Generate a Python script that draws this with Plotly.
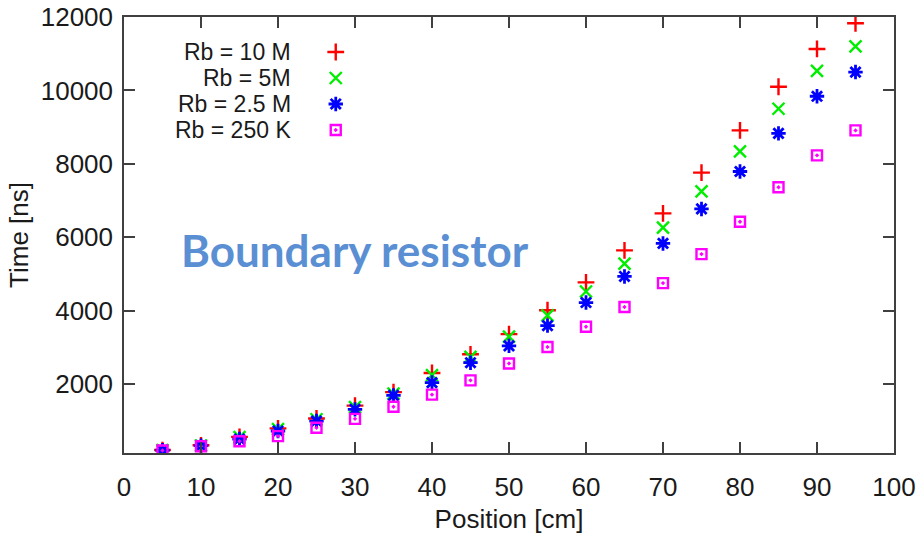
import plotly.graph_objects as go

# Position along the strip [cm]
position_cm = [5, 10, 15, 20, 25, 30, 35, 40, 45, 50, 55, 60, 65, 70, 75, 80, 85, 90, 95]

# Signal arrival time [ns] for each boundary resistor value
time_rb_10m = [200, 330, 560, 790, 1060, 1410, 1780, 2300, 2810, 3360, 4010, 4770,
               5640, 6650, 7760, 8910, 10100, 11130, 11830]
time_rb_5m = [200, 325, 550, 770, 1040, 1370, 1740, 2240, 2740, 3290, 3870, 4520,
              5280, 6260, 7250, 8340, 9500, 10530, 11200]
time_rb_2p5m = [195, 320, 500, 720, 990, 1310, 1690, 2040, 2580, 3040, 3590, 4220,
                4930, 5830, 6770, 7790, 8830, 9840, 10500]
time_rb_250k = [190, 305, 440, 580, 810, 1050, 1380, 1710, 2100, 2560, 3010, 3560,
                4100, 4750, 5540, 6420, 7360, 8230, 8910]

series_labels = ["Rb = 10 M", "Rb = 5M", "Rb = 2.5 M", "Rb = 250 K"]
series_values = [time_rb_10m, time_rb_5m, time_rb_2p5m, time_rb_250k]

x_ticks = [0, 10, 20, 30, 40, 50, 60, 70, 80, 90, 100]
y_ticks = [2000, 4000, 6000, 8000, 10000, 12000]
y_tick_text = ["2000", "4000", "6000", "8000", "10000", "12000"]

# gnuplot-like point styles: +, x, *, square with dot
styles = [
    dict(symbol="cross-thin-open", color="#ff0000", size=12, width=2.4),
    dict(symbol="x-thin-open", color="#00ee00", size=12, width=2.4),
    dict(symbol="asterisk-open", color="#0000ff", size=12, width=2.8),
    dict(symbol="square-open-dot", color="#ff00ff", size=10, width=2.4),
]

AXIS_COLOR = "#404040"
TEXT_COLOR = "#1a1a1a"
FONT = "Liberation Sans, Arial, sans-serif"
FONT_SIZE = 26
KEY_FONT_SIZE = 23

fig = go.Figure()

for label, values, st in zip(series_labels, series_values, styles):
    fig.add_trace(go.Scatter(
        x=position_cm, y=values, mode="markers", name=label,
        marker=dict(symbol=st["symbol"], size=st["size"], color=st["color"],
                    line=dict(color=st["color"], width=st["width"])),
        showlegend=False,
    ))

# Key: right-aligned labels with the point sample to their right
key_text_x = 0.2195
key_mark_x = 0.275
key_rows_y = [0.9197, 0.8601, 0.8005, 0.7408]
for label, ky, st in zip(series_labels, key_rows_y, styles):
    fig.add_trace(go.Scatter(
        x=[key_mark_x], y=[ky], mode="markers", xaxis="x2", yaxis="y2",
        marker=dict(symbol=st["symbol"], size=st["size"], color=st["color"],
                    line=dict(color=st["color"], width=st["width"])),
        showlegend=False, hoverinfo="skip",
    ))
    fig.add_annotation(
        x=key_text_x, y=ky, xref="paper", yref="paper", text=label,
        showarrow=False, xanchor="right", yanchor="middle",
        font=dict(family=FONT, size=KEY_FONT_SIZE, color=TEXT_COLOR),
    )

fig.add_annotation(
    x=0.071, y=0.466, xref="paper", yref="paper", text="<b>Boundary resistor</b>",
    showarrow=False, xanchor="left", yanchor="middle",
    font=dict(family="Lato, Open Sans, sans-serif", size=44, color="#5b8fd3"),
)

axis_common = dict(
    showline=True, linecolor=AXIS_COLOR, linewidth=1.5, mirror="allticks",
    ticks="inside", ticklen=11, tickwidth=1.5, tickcolor=AXIS_COLOR,
    showgrid=False, zeroline=False, automargin=False,
    tickfont=dict(family=FONT, size=FONT_SIZE, color=TEXT_COLOR),
)

fig.update_layout(
    width=922, height=534,
    margin=dict(l=124, r=28, t=17, b=81),
    paper_bgcolor="white", plot_bgcolor="white",
    xaxis=dict(range=[0, 100], tickvals=x_ticks, ticklabelstandoff=10,
               title=dict(text="Position [cm]",
                          font=dict(family=FONT, size=FONT_SIZE, color=TEXT_COLOR),
                          standoff=14),
               **axis_common),
    yaxis=dict(range=[120, 12000], tickvals=y_ticks, ticktext=y_tick_text,
               ticklabelstandoff=4,
               title=dict(text="Time [ns]",
                          font=dict(family=FONT, size=FONT_SIZE, color=TEXT_COLOR),
                          standoff=5),
               **axis_common),
    xaxis2=dict(range=[0, 1], overlaying="x", visible=False, domain=[0, 1]),
    yaxis2=dict(range=[0, 1], overlaying="y", visible=False),
)

fig.write_html("out.html")
